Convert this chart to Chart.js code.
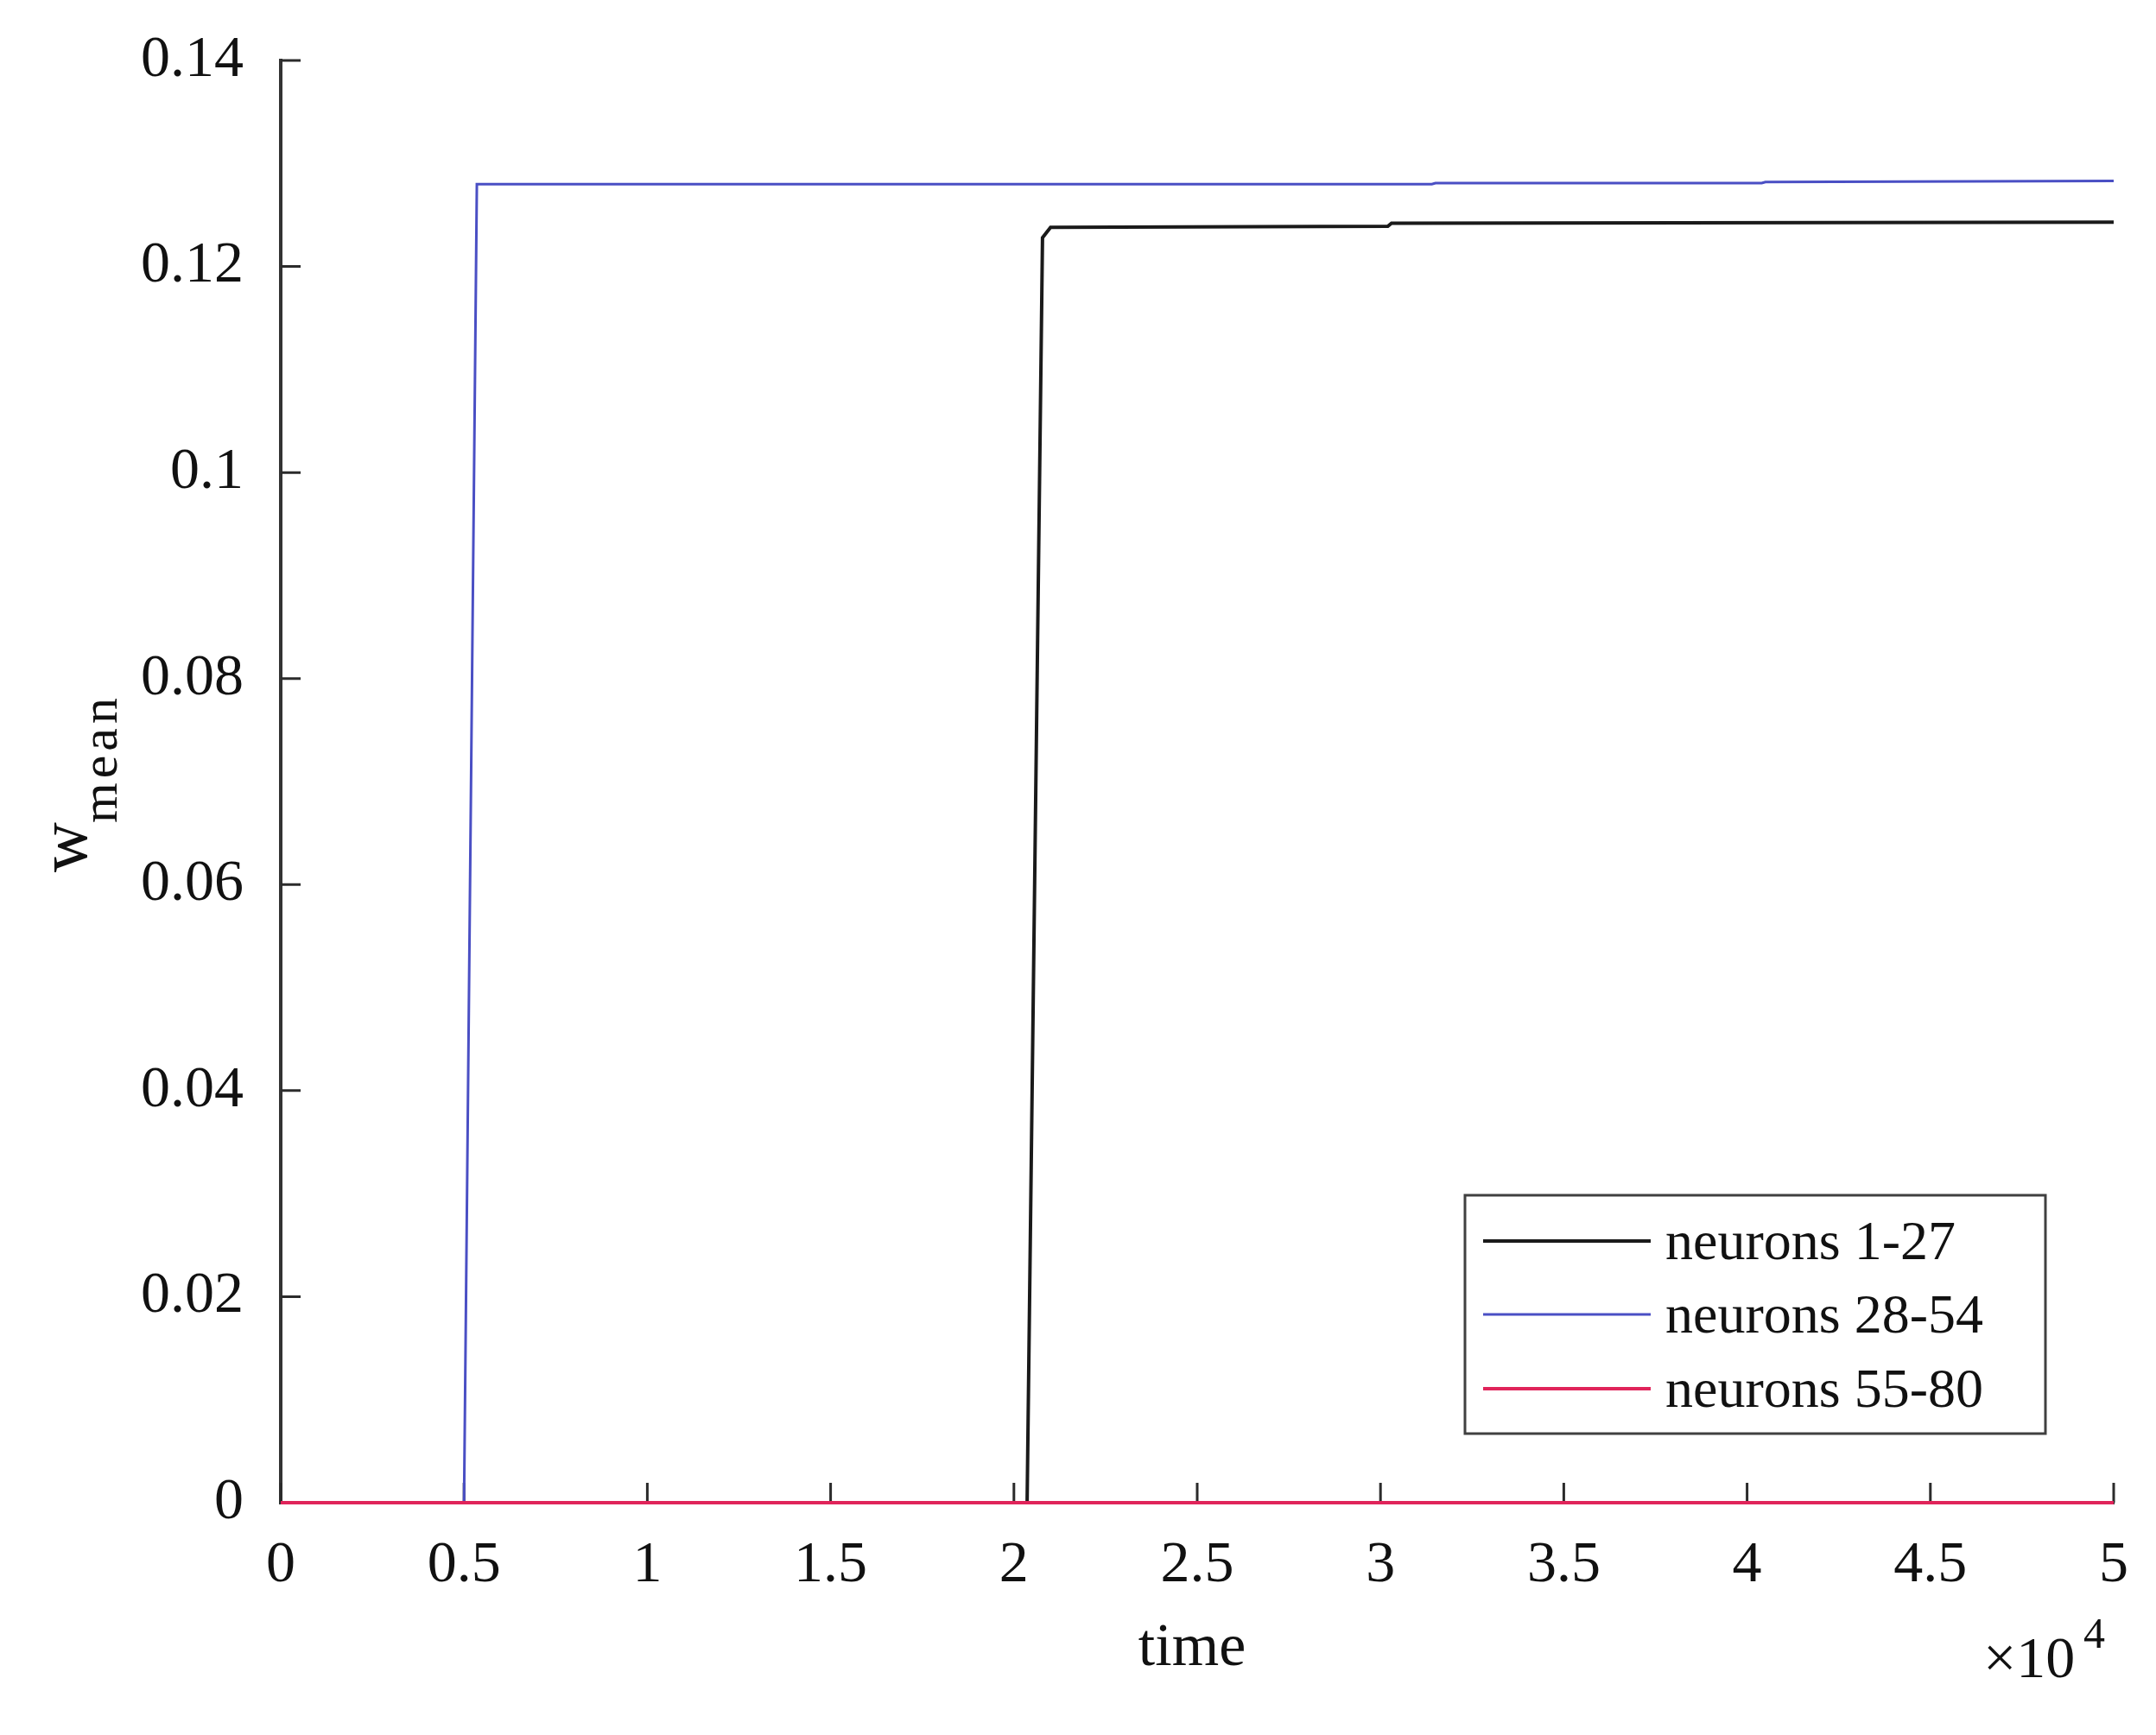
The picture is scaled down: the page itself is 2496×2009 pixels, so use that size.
<!DOCTYPE html>
<html>
<head>
<meta charset="utf-8">
<script src="https://cdn.jsdelivr.net/npm/chart.js@4.4.1/dist/chart.umd.min.js"></script>
<style>
  body { margin: 0; background: #fff; }
  canvas { display: block; }
</style>
</head>
<body>
<canvas id="chart" width="2496" height="2009"></canvas>
<script>
// series data (time in raw units, x axis shown as x10^4)
const blackTime = [0, 20360, 20780, 21000, 30200, 30300, 50000];
const blackVals = [0, 0, 0.1228, 0.1238, 0.1239, 0.1242, 0.1243];

const blueTime = [0, 5000, 5350, 31400, 31500, 40400, 40500, 50000];
const blueVals = [0, 0, 0.1280, 0.1280, 0.1281, 0.1281, 0.1282, 0.1283];

const redTime = [0, 50000];
const redVals = [0, 0];

const seriesLabels = ['neurons 1-27', 'neurons 28-54', 'neurons 55-80'];
const xTickLabels = ['0', '0.5', '1', '1.5', '2', '2.5', '3', '3.5', '4', '4.5', '5'];
const yTickLabels = ['0', '0.02', '0.04', '0.06', '0.08', '0.1', '0.12', '0.14'];

const FONT = "'Liberation Serif', 'Times New Roman', serif";

function pts(t, v) {
    return t.map((x, i) => ({x: x, y: v[i]}));
}

// inward ticks, axis titles and the boxed legend (matlab style)
const matlabDecor = {
    id: 'matlabDecor',
    beforeDatasetsDraw(chart) {
        const {ctx, chartArea: a, scales: {x, y}} = chart;
        ctx.save();
        ctx.strokeStyle = '#2b2b2b';
        ctx.lineWidth = 3;
        ctx.beginPath();
        x.ticks.forEach(t => {
            const px = x.getPixelForValue(t.value);
            ctx.moveTo(px, a.bottom);
            ctx.lineTo(px, a.bottom - 23);
        });
        y.ticks.forEach(t => {
            const py = y.getPixelForValue(t.value);
            ctx.moveTo(a.left, py);
            ctx.lineTo(a.left + 23, py);
        });
        ctx.stroke();
        ctx.restore();
    },
    afterDraw(chart) {
        const {ctx, chartArea: a} = chart;
        ctx.save();
        ctx.fillStyle = '#111';

        // x label
        ctx.font = '70px ' + FONT;
        ctx.textAlign = 'center';
        ctx.textBaseline = 'alphabetic';
        ctx.fillText('time', 1380, 1928);

        // x10^4 exponent
        ctx.textAlign = 'left';
        ctx.font = '68px ' + FONT;
        ctx.fillText('\u00d710', 2296, 1942);
        ctx.font = '50px ' + FONT;
        ctx.fillText('4', 2412, 1908);

        // y label w_mean, rotated
        ctx.save();
        ctx.translate(100, 1010);
        ctx.rotate(-Math.PI / 2);
        ctx.font = '80px ' + FONT;
        ctx.fillText('w', 0, 0);
        ctx.restore();
        ctx.save();
        ctx.translate(135, 953);
        ctx.rotate(-Math.PI / 2);
        ctx.font = '60px ' + FONT;
        ctx.letterSpacing = '5px';
        ctx.fillText('mean', 0, 0);
        ctx.restore();

        // legend box
        const bx = 1696, by = 1384, bw = 672, bh = 276;
        ctx.fillStyle = '#fff';
        ctx.fillRect(bx, by, bw, bh);
        ctx.strokeStyle = '#404040';
        ctx.lineWidth = 3;
        ctx.strokeRect(bx, by, bw, bh);
        const rows = [1437, 1522, 1608];
        chart.data.datasets.forEach((ds, i) => {
            ctx.strokeStyle = ds.borderColor;
            ctx.lineWidth = ds.borderWidth;
            ctx.beginPath();
            ctx.moveTo(1717, rows[i]);
            ctx.lineTo(1911, rows[i]);
            ctx.stroke();
            ctx.fillStyle = '#111';
            ctx.font = '64px ' + FONT;
            ctx.textBaseline = 'middle';
            ctx.fillText(ds.label, 1928, rows[i] + 4);
        });
        ctx.restore();
    }
};

const ctx = document.getElementById('chart');

new Chart(ctx, {
    type: 'line',
    data: {
        datasets: [
            {
                label: seriesLabels[0],
                data: pts(blackTime, blackVals),
                borderColor: '#1a1a1a',
                borderWidth: 4,
                order: 2
            },
            {
                label: seriesLabels[1],
                data: pts(blueTime, blueVals),
                borderColor: '#4a4fc4',
                borderWidth: 3,
                order: 1
            },
            {
                label: seriesLabels[2],
                data: pts(redTime, redVals),
                borderColor: '#e0245a',
                borderWidth: 4,
                order: 0
            }
        ]
    },
    options: {
        responsive: false,
        animation: false,
        events: [],
        clip: false,
        elements: {
            point: {radius: 0},
            line: {tension: 0, fill: false}
        },
        layout: {padding: {top: 70, right: 49, left: 0, bottom: 0}},
        plugins: {
            legend: {display: false},
            tooltip: {enabled: false}
        },
        scales: {
            x: {
                type: 'linear',
                min: 0,
                max: 50000,
                ticks: {
                    stepSize: 5000,
                    color: '#111',
                    padding: 32,
                    maxRotation: 0,
                    font: {family: FONT, size: 68},
                    callback: (v, i) => xTickLabels[i]
                },
                grid: {display: false, drawTicks: false},
                border: {display: true, color: '#333', width: 4},
                afterFit: s => { s.height = 269; s.paddingLeft = 0; s.paddingRight = 0; }
            },
            y: {
                min: 0,
                max: 0.14,
                ticks: {
                    stepSize: 0.02,
                    color: '#111',
                    padding: 43,
                    font: {family: FONT, size: 68},
                    callback: (v, i) => yTickLabels[i]
                },
                grid: {display: false, drawTicks: false},
                border: {display: true, color: '#333', width: 4},
                afterFit: s => { s.width = 325; s.paddingTop = 0; s.paddingBottom = 0; }
            }
        }
    },
    plugins: [matlabDecor]
});
</script>
</body>
</html>
